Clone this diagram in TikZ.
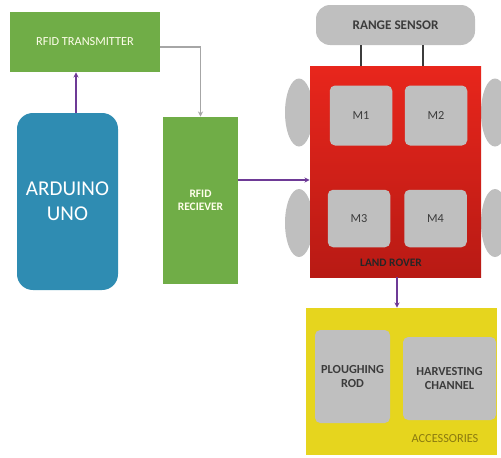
\documentclass[tikz,border=0pt]{standalone}
\usepackage{fontspec}
\setmainfont{Carlito}
\usetikzlibrary{arrows.meta}

\definecolor{boxgreen}{HTML}{70AD47}
\definecolor{unoblue}{HTML}{2F8CB2}
\definecolor{roverred}{HTML}{E8261C}
\definecolor{roverdark}{HTML}{B81A14}
\definecolor{partgray}{HTML}{BFBFBF}
\definecolor{accyellow}{HTML}{E6D51E}
\definecolor{wirepurple}{HTML}{6E3A96}
\definecolor{labeldark}{HTML}{3C3C3C}
\definecolor{accolive}{HTML}{8A7A10}

\tikzset{
    greenbox/.style={fill=boxgreen, text=yellow!8, font=\fontsize{7}{8}\selectfont},
    partbox/.style={fill=partgray, rounded corners=3pt, text=labeldark},
    wheel/.style={fill=partgray},
    arr/.style={wirepurple, thick, -{Stealth[length=3pt,width=3pt]}},
    link/.style={labeldark, semithick},
}

\begin{document}
\begin{tikzpicture}
    \useasboundingbox (0,0) rectangle (10.02,9.14);

    % RFID transmitter and the Arduino board under it
    \node[greenbox, minimum width=3cm, minimum height=1.2cm] (tx) at (1.7,8.3) {RFID TRANSMITTER};
    \node[fill=unoblue, rounded corners=9pt, minimum width=2.02cm, minimum height=3.54cm,
          text=white, align=center, font=\fontsize{12}{14}\selectfont] (ard) at (1.35,5.11) {ARDUINO\\UNO};

    % RFID receiver
    \node[greenbox, minimum width=1.5cm, minimum height=3.34cm, align=center,
          font=\fontsize{6.5}{7.5}\selectfont\bfseries] (rx) at (4.01,5.13) {RFID\\RECIEVER};

    % Wheels of the rover (behind the body)
    \foreach \wx in {5.98,9.9}
        \foreach \wy in {6.89,4.68}
            \fill[wheel] (\wx,\wy) ellipse (0.28 and 0.68);

    % Land rover body with its four motors
    \node[top color=roverred, bottom color=roverdark, minimum width=3.42cm, minimum height=4.22cm] (rover) at (7.91,5.71) {};
    \node[partbox, minimum width=1.25cm, minimum height=1.2cm, font=\fontsize{7}{8}\selectfont] (m1) at (7.22,6.83) {M1};
    \node[partbox, minimum width=1.25cm, minimum height=1.2cm, font=\fontsize{7}{8}\selectfont] (m2) at (8.72,6.83) {M2};
    \node[partbox, minimum width=1.25cm, minimum height=1.15cm, font=\fontsize{7}{8}\selectfont] (m3) at (7.18,4.77) {M3};
    \node[partbox, minimum width=1.25cm, minimum height=1.15cm, font=\fontsize{7}{8}\selectfont] (m4) at (8.71,4.77) {M4};
    \node[text=black!85, font=\fontsize{6.5}{7.5}\selectfont\bfseries] (roverlabel) at (7.82,3.88) {LAND ROVER};

    % Range sensor on top
    \node[partbox, rounded corners=8pt, minimum width=3.18cm, minimum height=0.8cm,
          font=\fontsize{7.5}{8.5}\selectfont\bfseries] (sensor) at (7.91,8.64) {RANGE SENSOR};

    % Accessories tray
    \node[fill=accyellow, minimum width=3.82cm, minimum height=2.94cm] (acc) at (8.03,1.51) {};
    \node[partbox, minimum width=1.5cm, minimum height=1.86cm, align=center,
          font=\fontsize{7}{8}\selectfont\bfseries] (plough) at (7.05,1.61) {PLOUGHING\\ROD};
    \node[partbox, minimum width=1.86cm, minimum height=1.66cm, align=center,
          font=\fontsize{7}{8}\selectfont\bfseries] (harvest) at (8.99,1.57) {HARVESTING\\CHANNEL};
    \node[text=accolive, font=\fontsize{7}{8}\selectfont] (acclabel) at (8.9,0.36) {ACCESSORIES};

    % Connections
    \draw[arr] ([xshift=0.17cm]ard.north) -- ([xshift=0.17cm]ard.north |- tx.south);
    \draw[arr, draw=gray!70] ([yshift=-0.1cm]tx.east) -| (rx.north);
    \draw[arr] ([yshift=0.41cm]rx.east) -- ([yshift=0.41cm]rx.east -| rover.west);
    \foreach \dx in {-0.69,0.55}
        \draw[link] ([xshift=\dx cm]sensor.south) -- ([xshift=\dx cm]rover.north);
    \draw[arr] ([xshift=0.03cm]rover.south) -- ([xshift=0.03cm]rover.south |- acc.north);
\end{tikzpicture}
\end{document}
